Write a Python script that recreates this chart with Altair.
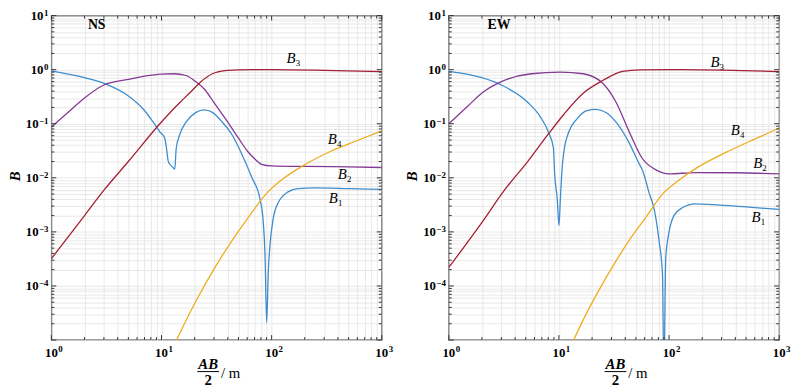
import altair as alt
import pandas as pd

# ---------------- data ----------------
SERIES = ["B1", "B2", "B3", "B4"]
COLORS = ["#3d8ccc", "#843a94", "#a41e34", "#eead1f"]

# NS panel
ns_b1_x = [1, 2, 3, 4.86, 6.85, 8.4, 9.66, 10.7, 11.1, 11.5, 11.9, 12.7, 13.2, 13.6, 14.6, 16.7, 20.6, 24.4,
           29, 35.6, 43.8, 53.8, 66, 78.5, 84, 87.1, 90.1, 93.3, 96.6, 103, 115, 141, 174, 245, 500, 1000]
ns_b1_y = [0.95, 0.71, 0.56, 0.34, 0.185, 0.107, 0.071, 0.054, 0.035, 0.0204, 0.0178, 0.0155, 0.0145, 0.035,
           0.062, 0.107, 0.162, 0.18, 0.162, 0.107, 0.062, 0.027, 0.0102, 0.004, 0.0015, 0.00038, 0.000021,
           0.00019, 0.00057, 0.0017, 0.0035, 0.0055, 0.0063, 0.0065, 0.0063, 0.0061]
ns_b2_x = [1, 1.5, 2, 3, 5, 7, 10, 13, 16.7, 20, 24.9, 30, 40, 50, 60.4, 70.8, 81, 100, 200, 500, 1000]
ns_b2_y = [0.087, 0.18, 0.3, 0.52, 0.66, 0.76, 0.83, 0.84, 0.78, 0.62, 0.42, 0.245, 0.107, 0.054, 0.031,
           0.022, 0.0178, 0.0166, 0.0162, 0.016, 0.0155]
ns_b3_x = [1, 2, 3, 5, 9.66, 14.6, 18, 22.8, 29, 38, 50, 70, 100, 300, 1000]
ns_b3_y = [3.2e-4, 2.0e-3, 5.9e-3, 0.02, 0.1, 0.245, 0.37, 0.6, 0.84, 0.96, 0.99, 1.0, 1.0, 0.97, 0.92]
ns_b4_x = [12, 13.7, 17, 22, 31, 43.7, 62, 88, 122, 205, 345, 600, 1000]
ns_b4_y = [5.6e-6, 1e-5, 2.48e-5, 6.8e-5, 2.3e-4, 6.9e-4, 1.9e-3, 4.9e-3, 9.0e-3, 0.018, 0.031, 0.049, 0.074]

# EW panel
ew_b1_x = [1, 2, 3, 5.2, 6.85, 8.13, 8.9, 9.14, 9.66, 10.0, 10.3, 10.7, 11.1, 12.3, 14.6, 17.9, 21.5, 27,
           33, 44, 52, 57.6, 66, 73.3, 81.3, 87.1, 89.8, 93.3, 100, 110.7, 132, 174, 250, 500, 1000]
ew_b1_y = [0.93, 0.71, 0.52, 0.25, 0.13, 0.066, 0.036, 0.0118, 0.004, 0.0013, 0.004, 0.0155, 0.031, 0.071,
           0.123, 0.174, 0.185, 0.16, 0.107, 0.042, 0.0204, 0.0135, 0.0052, 0.0026, 6.6e-4, 1.7e-4, 2e-6,
           3.3e-4, 1e-3, 2e-3, 2.8e-3, 3.3e-3, 3.2e-3, 2.9e-3, 2.6e-3]
ew_b2_x = [1, 1.5, 2, 3, 5.6, 10.3, 16.6, 25, 33, 43.6, 57, 76, 100, 174, 400, 1000]
ew_b2_y = [0.1, 0.215, 0.37, 0.6, 0.84, 0.9, 0.84, 0.56, 0.25, 0.07, 0.023, 0.014, 0.0118, 0.0125, 0.0124,
           0.0118]
ew_b3_x = [1, 2, 3.2, 5.2, 7.9, 11.1, 16.7, 25, 38, 55, 100, 300, 1000]
ew_b3_y = [2.2e-4, 1.5e-3, 5.9e-3, 0.02, 0.062, 0.15, 0.37, 0.63, 0.93, 0.99, 1.0, 0.98, 0.92]
ew_b4_x = [12, 13.6, 17, 22, 33, 43.7, 62, 87, 120, 174, 250, 345, 600, 1000]
ew_b4_y = [5.6e-6, 1e-5, 2.6e-5, 7.0e-5, 2.9e-4, 7.1e-4, 1.9e-3, 5.0e-3, 8.7e-3, 0.0148, 0.0224, 0.031,
           0.052, 0.083]

# curve labels (B + subscript), positions in data units
label_sub = ["1", "2", "3", "4"]
ns_label_x = [363, 438, 150, 356]
ns_label_y = [0.00428, 0.0115, 1.65, 0.053]
ew_label_x = [617, 638, 261, 400]
ew_label_y = [0.00185, 0.0191, 1.4, 0.076]

panel_names = ["NS", "EW"]
panel_name_x = [2.58, 2.86]
panel_name_y = [6.6, 6.6]

# axis ticks and tick labels (10 with a raised exponent)
x_major = [1, 10, 100, 1000]
x_minor = [k * 10 ** e for e in range(0, 3) for k in range(2, 10)]
y_major = [10.0 ** e for e in range(-5, 2)]
y_minor = [k * 10.0 ** e for e in range(-5, 1) for k in range(2, 10)]
x_label_vals = [1, 10, 100, 1000]
x_label_exp = ["0", "1", "2", "3"]
y_label_vals_short = [1.0, 10.0]
y_label_exp_short = ["0", "1"]
y_label_vals_long = [1e-4, 1e-3, 1e-2, 1e-1]
y_label_exp_long = ["−4", "−3", "−2", "−1"]

# ---------------- chart ----------------
W = 335
H = 329
FONT = "Liberation Serif"
GRID = "#e3e3e3"
TICK = "#333333"

xs = alt.Scale(type="log", domain=[1, 1000], nice=False)
ys = alt.Scale(type="log", domain=[1e-5, 10], nice=False)

AX_X = alt.Axis(values=sorted(x_major + x_minor), grid=True, gridColor=GRID, gridWidth=0.8, ticks=False,
                domain=False, labels=False, title=None)
AX_Y = alt.Axis(values=sorted(y_major + y_minor), grid=True, gridColor=GRID, gridWidth=0.8, ticks=False,
                domain=False, labels=False, title=None)


def X(field):
    return alt.X(field, scale=xs, axis=AX_X)


def Y(field):
    return alt.Y(field, scale=ys, axis=AX_Y)


def curves_df(xs_list, ys_list):
    rows = []
    for s, xv, yv in zip(SERIES, xs_list, ys_list):
        for a, b in zip(xv, yv):
            rows.append({"x": a, "y": b, "s": s})
    return pd.DataFrame(rows)


def tick_layers():
    out = []
    for vals, ln in ((x_major, 5), (x_minor, 3)):
        d = pd.DataFrame({"x": vals})
        for y1, y2 in ((H, H - ln), (0, ln)):
            out.append(alt.Chart(d).mark_rule(color=TICK, strokeWidth=1).encode(
                x=X("x:Q"), y=alt.value(y1), y2=alt.value(y2)))
    for vals, ln in ((y_major, 5), (y_minor, 3)):
        d = pd.DataFrame({"y": vals})
        for x1, x2 in ((0, ln), (W, W - ln)):
            out.append(alt.Chart(d).mark_rule(color=TICK, strokeWidth=1).encode(
                y=Y("y:Q"), x=alt.value(x1), x2=alt.value(x2)))
    return out


def tick_label_layers():
    big = dict(font=FONT, fontSize=13, fontWeight="bold", color="black", baseline="middle")
    small = dict(font=FONT, fontSize=9, fontWeight="bold", color="black", baseline="middle")
    xd = pd.DataFrame({"x": x_label_vals, "e": x_label_exp, "t": ["10"] * len(x_label_vals)})
    out = [
        alt.Chart(xd).mark_text(align="center", **big).encode(x=X("x:Q"), y=alt.value(H + 13), text="t:N"),
        alt.Chart(xd).mark_text(align="left", dx=7, **small).encode(x=X("x:Q"), y=alt.value(H + 9),
                                                                    text="e:N"),
    ]
    for vals, exps, w in ((y_label_vals_short, y_label_exp_short, 5),
                          (y_label_vals_long, y_label_exp_long, 10)):
        yd = pd.DataFrame({"y": vals, "e": exps, "t": ["10"] * len(vals)})
        out.append(alt.Chart(yd).mark_text(align="right", **big).encode(
            y=Y("y:Q"), x=alt.value(-3 - w), text="t:N"))
        out.append(alt.Chart(yd).mark_text(align="right", dy=-3, **small).encode(
            y=Y("y:Q"), x=alt.value(-3), text="e:N"))
    return out


def panel(idx, xs_list, ys_list, lab_x, lab_y, tdx):
    df = curves_df(xs_list, ys_list)
    lines = alt.Chart(df).mark_line(clip=True, interpolate="monotone", strokeWidth=1.3).encode(
        x=X("x:Q"), y=Y("y:Q"),
        color=alt.Color("s:N", scale=alt.Scale(domain=SERIES, range=COLORS), legend=None),
    )
    ldf = pd.DataFrame({"x": lab_x, "y": lab_y, "sub": label_sub, "b": ["B"] * 4})
    lab_b = alt.Chart(ldf).mark_text(font=FONT, fontSize=15, fontStyle="italic", color="black",
                                     align="center", baseline="middle").encode(
        x=X("x:Q"), y=Y("y:Q"), text="b:N")
    lab_s = alt.Chart(ldf).mark_text(font=FONT, fontSize=9, color="black", align="center",
                                     baseline="middle", dx=7, dy=5).encode(
        x=X("x:Q"), y=Y("y:Q"), text="sub:N")
    ndf = pd.DataFrame({"x": [panel_name_x[idx]], "y": [panel_name_y[idx]], "t": [panel_names[idx]]})
    name = alt.Chart(ndf).mark_text(font=FONT, fontSize=14, fontWeight="bold", color="black",
                                    align="center", baseline="middle").encode(
        x=X("x:Q"), y=Y("y:Q"), text="t:N")
    tdf = pd.DataFrame({"t": ["B"], "ab": ["AB"], "two": ["2"], "m": ["/ m"]})
    ytitle = alt.Chart(tdf).mark_text(font=FONT, fontSize=15, fontStyle="italic", fontWeight="bold",
                                      angle=270, align="center", baseline="middle", color="black").encode(
        x=alt.value(-37), y=alt.value(163), text="t:N")
    ab = alt.Chart(tdf).mark_text(font=FONT, fontSize=15, fontStyle="italic", fontWeight="bold",
                                  align="center", baseline="middle", color="black").encode(
        x=alt.value(159 + tdx), y=alt.value(353), text="ab:N")
    bar = alt.Chart(tdf).mark_rule(color="black", strokeWidth=1).encode(
        x=alt.value(148 + tdx), x2=alt.value(170 + tdx), y=alt.value(361))
    two = alt.Chart(tdf).mark_text(font=FONT, fontSize=15, fontWeight="bold", align="center",
                                   baseline="middle", color="black").encode(
        x=alt.value(159 + tdx), y=alt.value(369.5), text="two:N")
    m = alt.Chart(tdf).mark_text(font=FONT, fontSize=15, align="left", baseline="middle",
                                 color="black").encode(
        x=alt.value(172 + tdx), y=alt.value(362), text="m:N")
    layers = ([lines] + tick_layers() + tick_label_layers()
              + [lab_b, lab_s, name, ytitle, ab, bar, two, m])
    return alt.layer(*layers).properties(width=W, height=H)


left = panel(0, [ns_b1_x, ns_b2_x, ns_b3_x, ns_b4_x], [ns_b1_y, ns_b2_y, ns_b3_y, ns_b4_y],
             ns_label_x, ns_label_y, 0)
right = panel(1, [ew_b1_x, ew_b2_x, ew_b3_x, ew_b4_x], [ew_b1_y, ew_b2_y, ew_b3_y, ew_b4_y],
              ew_label_x, ew_label_y, 10)

chart = alt.hconcat(left, right, spacing=10).properties(
    padding={"left": -1, "top": -3, "right": 0, "bottom": 0}, background="white"
).configure_view(stroke="#3a3a3a", strokeWidth=1.3)

chart.save("out.html", embed_options={"renderer": "svg", "actions": False})
